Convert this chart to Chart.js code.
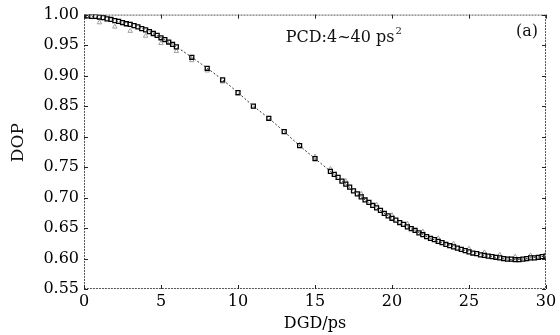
<!DOCTYPE html>
<html>
<head>
<meta charset="utf-8">
<script src="https://cdn.jsdelivr.net/npm/chart.js@4"></script>
<style>
  html, body { margin: 0; padding: 0; background: #fff; }
  #wrap { width: 560px; height: 335px; }
</style>
</head>
<body>
<div id="wrap"><canvas id="myChart" width="560" height="335"></canvas></div>
<script>
// fitted curve (thin line)
const dgdFit = [0,1,2,3,4,5,6,7,8,9,10,11,12,13,14,15,16,17,18,19,20,21,22,23,24,25,26,27,28,29,30];
const dopFit = [0.998,0.995,0.990,0.984,0.975,0.962,0.947,0.930,0.912,0.893,0.872,0.850,0.830,0.808,0.785,
                0.764,0.743,0.722,0.701,0.683,0.666,0.652,0.639,0.628,0.619,0.611,0.605,0.601,0.598,0.601,0.604];

// square markers (simulation)
const dgdSq = [0,0.25,0.5,0.75,1,1.25,1.5,1.75,2,2.25,2.5,2.75,3,3.25,3.5,3.75,4,4.25,4.5,4.75,5,5.25,5.5,5.75,6,
               7,8,9,10,11,12,13,14,15,
               16,16.25,16.5,16.75,17,17.25,17.5,17.75,18,18.25,18.5,18.75,19,19.25,19.5,19.75,
               20,20.25,20.5,20.75,21,21.25,21.5,21.75,22,22.25,22.5,22.75,23,23.25,23.5,23.75,
               24,24.25,24.5,24.75,25,25.25,25.5,25.75,26,26.25,26.5,26.75,27,27.25,27.5,27.75,
               28,28.25,28.5,28.75,29,29.25,29.5,29.75,30];
const dopSq = [0.998,0.998,0.997,0.997,0.996,0.995,0.993,0.992,0.990,0.989,0.987,0.985,0.984,0.982,0.980,0.977,0.975,0.972,0.969,0.966,0.962,0.959,0.955,0.951,0.947,
               0.930,0.912,0.893,0.872,0.850,0.830,0.808,0.785,0.764,
               0.743,0.738,0.733,0.727,0.722,0.717,0.711,0.706,0.701,0.696,0.692,0.687,0.683,0.679,0.674,0.670,
               0.666,0.663,0.659,0.656,0.652,0.649,0.646,0.642,0.639,0.636,0.633,0.631,0.628,0.626,0.623,0.621,
               0.619,0.617,0.615,0.613,0.611,0.609,0.608,0.606,0.605,0.604,0.603,0.602,0.601,0.600,0.599,0.599,
               0.598,0.598,0.599,0.600,0.601,0.601,0.602,0.603,0.604];

// triangle markers
const dgdTri = [1,2,3,4,5,6,7,8,9,10,11,12,13,14,15,16,17,18,19,20,21,22,23,24,25,26,27,28,29,30];
const dopTri = [0.987,0.980,0.973,0.965,0.953,0.940,0.925,0.908,0.890,0.870,0.849,0.829,0.808,0.786,0.767,
                0.747,0.727,0.706,0.688,0.671,0.657,0.644,0.633,0.624,0.616,0.610,0.606,0.603,0.605,0.607];

const xTicks = [0,5,10,15,20,25,30];
const yTicks = [0.55,0.60,0.65,0.70,0.75,0.80,0.85,0.90,0.95,1.00];

const serif = "'DejaVu Serif', 'Liberation Serif', serif";

function pts(xs, ys) {
    return xs.map((x, i) => ({ x: x, y: ys[i] }));
}

// frame, inward ticks, annotations
const decor = {
    id: 'decor',
    afterDatasetsDraw(chart) {
        const c = chart.ctx, a = chart.chartArea;
        const xs = chart.scales.x, ys = chart.scales.y;
        c.save();
        c.strokeStyle = '#555';
        c.lineWidth = 1;
        c.setLineDash([2, 1]);
        c.strokeRect(a.left + 0.5, a.top + 0.5, a.right - a.left - 1, a.bottom - a.top - 1);
        c.setLineDash([]);
        c.strokeStyle = '#222';
        c.beginPath();
        xTicks.forEach(v => {
            const px = Math.round(xs.getPixelForValue(v)) + 0.5;
            c.moveTo(px, a.bottom); c.lineTo(px, a.bottom - 4);
            c.moveTo(px, a.top); c.lineTo(px, a.top + 4);
        });
        yTicks.forEach(v => {
            const py = Math.round(ys.getPixelForValue(v)) + 0.5;
            c.moveTo(a.left, py); c.lineTo(a.left + 4, py);
            c.moveTo(a.right, py); c.lineTo(a.right - 4, py);
        });
        c.stroke();

        c.fillStyle = '#111';
        c.font = '16px ' + serif;
        c.textBaseline = 'middle';
        c.textAlign = 'left';
        const tx = xs.getPixelForValue(13.1), ty = ys.getPixelForValue(0.962);
        c.fillText('PCD:4~40 ps', tx, ty);
        const w = c.measureText('PCD:4~40 ps').width;
        c.font = '10px ' + serif;
        c.fillText('2', tx + w + 1, ty - 6);
        c.font = '16px ' + serif;
        c.textAlign = 'right';
        c.fillText('(a)', a.right - 8, ys.getPixelForValue(0.971));

        c.font = '17px ' + serif;
        c.translate(19, ys.getPixelForValue(0.79));
        c.rotate(-Math.PI / 2);
        c.textAlign = 'center';
        c.fillText('DOP', 0, 0);
        c.restore();
    }
};

const ctx = document.getElementById('myChart').getContext('2d');
new Chart(ctx, {
    type: 'scatter',
    data: {
        datasets: [
            {
                label: 'tri',
                data: pts(dgdTri, dopTri),
                pointStyle: 'triangle',
                pointRadius: 2.6,
                borderColor: '#a0a0a0',
                backgroundColor: 'rgba(0,0,0,0)',
                borderWidth: 1,
                order: 3
            },
            {
                label: 'sq',
                data: pts(dgdSq, dopSq),
                pointStyle: 'rect',
                pointRadius: 2.8,
                borderColor: '#000',
                backgroundColor: '#fff',
                borderWidth: 1.3,
                order: 2
            },
            {
                label: 'fit',
                type: 'line',
                data: pts(dgdFit, dopFit),
                showLine: true,
                pointRadius: 0,
                borderColor: '#333',
                borderWidth: 1,
                borderDash: [2, 2],
                cubicInterpolationMode: 'monotone',
                order: 1
            }
        ]
    },
    options: {
        responsive: false,
        animation: false,
        layout: { padding: { left: 0, right: 14, top: 12, bottom: 0 } },
        scales: {
            x: {
                type: 'linear',
                min: 0, max: 30,
                afterFit: s => { s.height = 46; },
                afterBuildTicks: s => { s.ticks = xTicks.map(v => ({ value: v })); },
                grid: { display: false, drawTicks: false },
                border: { display: false },
                ticks: { color: '#000', font: { family: serif, size: 16 }, padding: 3, maxRotation: 0 },
                title: { display: true, text: 'DGD/ps', color: '#000', font: { family: serif, size: 16 }, padding: { top: 0, bottom: 2 } }
            },
            y: {
                min: 0.55, max: 1.0,
                afterFit: s => { s.width = 84; },
                afterBuildTicks: s => { s.ticks = yTicks.map(v => ({ value: v })); },
                grid: { display: false, drawTicks: false },
                border: { display: false },
                ticks: { color: '#000', font: { family: serif, size: 16 }, padding: 5, callback: v => v.toFixed(2) }
            }
        },
        plugins: {
            legend: { display: false },
            tooltip: { enabled: false }
        }
    },
    plugins: [decor]
});
</script>
</body>
</html>
